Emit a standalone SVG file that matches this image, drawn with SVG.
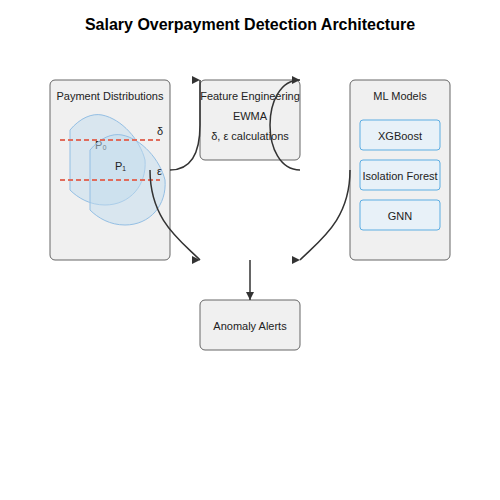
<svg xmlns="http://www.w3.org/2000/svg" width="500" height="500" viewBox="0 0 500 500">
<style>
text{font-family:"Liberation Sans",Arial,sans-serif;fill:#222;}
.title{font-size:16px;font-weight:bold;fill:#000;}
.lbl{font-size:11px;}
.box{fill:#f0f0f0;stroke:#666;stroke-width:1;}
.sub{fill:#e8f1f8;stroke:#5dade2;stroke-width:1;}
.blob{fill:#c2dcee;fill-opacity:0.5;stroke:#94bfe4;stroke-width:1;}
.thr{stroke:#e06c5c;stroke-width:2;stroke-dasharray:5,3;}
.conn{fill:none;stroke:#333;stroke-width:1.5;}
</style>
<defs>
<marker id="arr" markerUnits="userSpaceOnUse" markerWidth="8" markerHeight="8" refX="8" refY="4">
<path d="M0,0 L8,4 L0,8 Z" fill="#333"/>
</marker>
<marker id="arrAuto" markerUnits="userSpaceOnUse" markerWidth="8" markerHeight="8" refX="8" refY="4" orient="auto">
<path d="M0,0 L8,4 L0,8 Z" fill="#333"/>
</marker>
</defs>
<rect width="500" height="500" fill="#fff"/>
<text class="title" x="250" y="30" text-anchor="middle">Salary Overpayment Detection Architecture</text>

<g id="payment-distributions">
<rect class="box" x="50" y="80" width="120" height="180" rx="5"/>
<text class="lbl" x="110" y="100" text-anchor="middle">Payment Distributions</text>
<path class="blob" d="M70,130 C80,118 92,113 102,115 C122,119 140,140 145,160 C147,185 130,205 105,205 C90,205 78,198 70,190 Z"/>
<text class="lbl" x="95" y="149">P₀</text>
<path class="blob" d="M90,150 C100,138 112,133 122,135 C142,139 160,160 165,180 C167,205 150,225 125,225 C110,225 98,218 90,210 Z"/>
<text class="lbl" x="115" y="170">P₁</text>
<line class="thr" x1="60" y1="140" x2="160" y2="140"/>
<line class="thr" x1="60" y1="180" x2="160" y2="180"/>
<text class="lbl" x="157" y="135">δ</text>
<text class="lbl" x="157" y="175">ε</text>
</g>

<g id="feature-engineering">
<rect class="box" x="200" y="80" width="100" height="80" rx="5"/>
<text class="lbl" x="250" y="100" text-anchor="middle">Feature Engineering</text>
<text class="lbl" x="250" y="120" text-anchor="middle">EWMA</text>
<text class="lbl" x="250" y="140" text-anchor="middle">δ, ε calculations</text>
</g>

<g id="ml-models">
<rect class="box" x="350" y="80" width="100" height="180" rx="5"/>
<text class="lbl" x="400" y="100" text-anchor="middle">ML Models</text>
<rect class="sub" x="360" y="120" width="80" height="30" rx="3"/>
<text class="lbl" x="400" y="140" text-anchor="middle">XGBoost</text>
<rect class="sub" x="360" y="160" width="80" height="30" rx="3"/>
<text class="lbl" x="400" y="180" text-anchor="middle">Isolation Forest</text>
<rect class="sub" x="360" y="200" width="80" height="30" rx="3"/>
<text class="lbl" x="400" y="220" text-anchor="middle">GNN</text>
</g>

<g id="anomaly-alerts">
<rect class="box" x="200" y="300" width="100" height="50" rx="5"/>
<text class="lbl" x="250" y="330" text-anchor="middle">Anomaly Alerts</text>
</g>

<g id="connectors">
<path class="conn" d="M170,170 Q200,170 200,125 L200,80" marker-end="url(#arr)"/>
<path class="conn" d="M300,170 C260,170 260,80 300,80" marker-end="url(#arr)"/>
<path class="conn" d="M150,170 C150,220 180,240 200,260" marker-end="url(#arr)"/>
<path class="conn" d="M350,170 C350,220 320,240 300,260" marker-end="url(#arr)"/>
<path class="conn" d="M250,260 L250,300" marker-end="url(#arrAuto)"/>
</g>
</svg>
